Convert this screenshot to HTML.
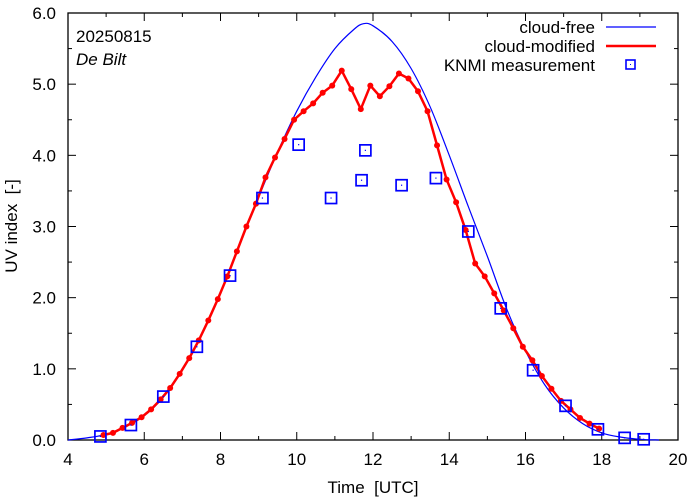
<!DOCTYPE html>
<html><head><meta charset="utf-8"><style>
body{margin:0;background:#fff}
svg{font-family:"Liberation Sans",sans-serif;display:block}
</style></head><body>
<svg id="chart" width="694" height="501" viewBox="0 0 694 501">
<g id="axes"></g>
<g id="series"></g>
<text x="76" y="42" font-size="17">20250815</text>
<text x="76" y="65" font-size="17" font-style="italic">De Bilt</text>
<text x="373" y="493" font-size="17" text-anchor="middle">Time&#160;&#160;[UTC]</text>
<text transform="translate(17,226) rotate(-90)" font-size="17" text-anchor="middle">UV index&#160;&#160;[-]</text>
<g>
<text x="595" y="33" font-size="17" text-anchor="end">cloud-free</text>
<line x1="606" y1="27" x2="656" y2="27" stroke="#0000ff" stroke-width="1.2"/>
<text x="595" y="52" font-size="17" text-anchor="end">cloud-modified</text>
<line x1="606" y1="46" x2="656" y2="46" stroke="#ff0000" stroke-width="2.5"/>
<text x="595" y="71" font-size="17" text-anchor="end">KNMI measurement</text>
<rect x="626" y="60" width="9" height="9" fill="none" stroke="#0000ff" stroke-width="1.6"/>
<rect x="630" y="64" width="1" height="1" fill="#0000ff"/>
</g>
</svg>
<script>
const xTicks=[4,6,8,10,12,14,16,18,20];
const yTicks=[0,1,2,3,4,5,6];
const clearT=[4.0,4.5,5.0,5.5,6.0,6.5,7.0,7.5,8.0,8.5,9.0,9.5,10.0,10.5,11.0,11.5,11.75,12.0,12.5,13.0,13.5,14.0,14.5,15.0,15.5,16.0,16.5,17.0,17.5,18.0,18.5,19.0,19.5];
const clearV=[0.0,0.03,0.08,0.19,0.34,0.6,0.98,1.47,2.06,2.74,3.41,4.05,4.62,5.1,5.5,5.77,5.85,5.82,5.6,5.22,4.68,4.0,3.28,2.58,1.85,1.25,0.78,0.45,0.23,0.1,0.04,0.01,0.0];
const cloudT=[4.93,5.18,5.43,5.68,5.93,6.18,6.43,6.68,6.93,7.18,7.43,7.68,7.93,8.18,8.43,8.68,8.93,9.18,9.43,9.68,9.93,10.18,10.43,10.68,10.93,11.18,11.43,11.68,11.93,12.18,12.43,12.68,12.93,13.18,13.43,13.68,13.93,14.18,14.43,14.68,14.93,15.18,15.43,15.68,15.93,16.18,16.43,16.68,16.93,17.18,17.43,17.68,17.93];
const cloudV=[0.07,0.1,0.17,0.24,0.32,0.43,0.57,0.73,0.93,1.15,1.4,1.68,1.98,2.3,2.65,3.0,3.32,3.69,3.97,4.23,4.5,4.62,4.73,4.88,4.98,5.19,4.93,4.65,4.98,4.83,4.97,5.15,5.08,4.9,4.62,4.14,3.66,3.34,2.95,2.48,2.3,2.06,1.82,1.57,1.31,1.12,0.9,0.72,0.55,0.43,0.31,0.23,0.16];
const measT=[4.85,5.65,6.5,7.38,8.25,9.1,10.05,10.9,11.7,11.8,12.75,13.65,14.5,15.35,16.2,17.05,17.9,18.6,19.1];
const measV=[0.05,0.21,0.61,1.31,2.31,3.4,4.15,3.4,3.65,4.07,3.58,3.68,2.93,1.85,0.98,0.48,0.15,0.03,0.01];
const L=68,R=678,T=13,B=440;
const sx=t=>L+(t-4)/16*(R-L);
const sy=v=>B-v/6*(B-T);
const NS='http://www.w3.org/2000/svg';
function mk(tag,attrs,parent){const e=document.createElementNS(NS,tag);for(const k in attrs)e.setAttribute(k,attrs[k]);parent.appendChild(e);return e;}
const ax=document.getElementById('axes'),sr=document.getElementById('series');
const frame=mk('rect',{x:L,y:T,width:R-L,height:B-T,fill:'none',stroke:'#000','stroke-width':1.3},ax);


for(let t=4;t<=20;t+=1){const x=sx(t);const len=(t%2===0)?8:4;
mk('line',{x1:x,y1:B,x2:x,y2:B-len,stroke:'#000'},ax);mk('line',{x1:x,y1:T,x2:x,y2:T+len,stroke:'#000'},ax);}
for(let v=0;v<=6.001;v+=0.5){const y=sy(v);const len=(Math.abs(v-Math.round(v))<0.01)?8:4;
mk('line',{x1:L,y1:y,x2:L+len,y2:y,stroke:'#000'},ax);mk('line',{x1:R,y1:y,x2:R-len,y2:y,stroke:'#000'},ax);}
xTicks.forEach(t=>{const e=mk('text',{x:sx(t),y:B+25,'font-size':17,'text-anchor':'middle'},ax);e.textContent=t;

});
yTicks.forEach(v=>{const e=mk('text',{x:L-12,y:sy(v)+6,'font-size':17,'text-anchor':'end'},ax);e.textContent=v.toFixed(1);

});
const P=clearT.map((t,i)=>[sx(t),sy(clearV[i])]);
let d='M'+P[0][0]+','+P[0][1];
for(let i=0;i<P.length-1;i++){const p0=P[Math.max(0,i-1)],p1=P[i],p2=P[i+1],p3=P[Math.min(P.length-1,i+2)];
d+=' C'+(p1[0]+(p2[0]-p0[0])/6)+','+(p1[1]+(p2[1]-p0[1])/6)+' '+(p2[0]-(p3[0]-p1[0])/6)+','+(p2[1]-(p3[1]-p1[1])/6)+' '+p2[0]+','+p2[1];}
const clr=mk('path',{d:d,fill:'none',stroke:'#0000ff','stroke-width':1.2},sr);


const cl=mk('polyline',{points:cloudT.map((t,i)=>sx(t)+','+sy(cloudV[i])).join(' '),fill:'none',stroke:'#ff0000','stroke-width':2.5,'stroke-linejoin':'round'},sr);


cloudT.forEach((t,i)=>{const c=mk('circle',{cx:sx(t),cy:sy(cloudV[i]),r:3,fill:'#ff0000'},sr);

});
measT.forEach((t,i)=>{const x=sx(t),y=sy(measV[i]);
const r=mk('rect',{x:x-5.5,y:y-5.5,width:11,height:11,fill:'none',stroke:'#0000ff','stroke-width':1.7},sr);


mk('rect',{x:x-0.6,y:y-0.6,width:1.2,height:1.2,fill:'#0000ff'},sr);});
</script>
</body></html>
